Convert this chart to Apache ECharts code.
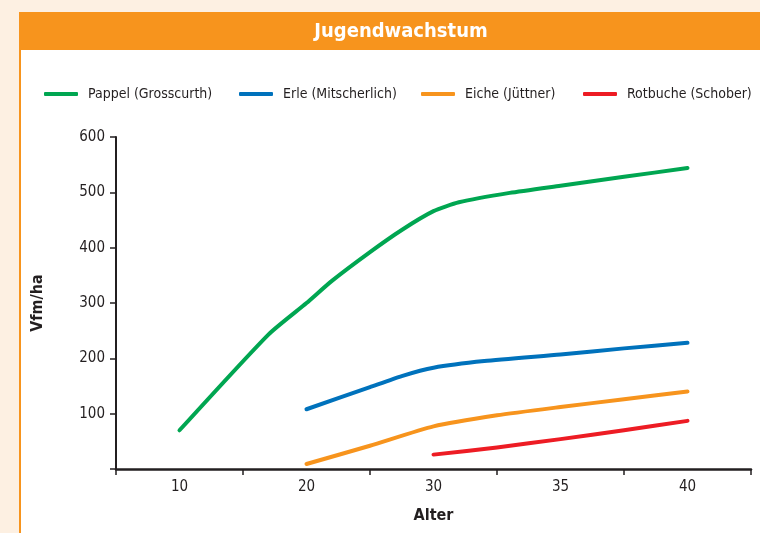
<!DOCTYPE html>
<html>
<head>
<meta charset="utf-8">
<script src="https://cdn.jsdelivr.net/npm/echarts@6/dist/echarts.min.js"></script>
<style>
  html, body { margin: 0; padding: 0; background: #fdf0e2; }
  #chart { width: 760px; height: 533px; }
</style>
</head>
<body>
<div id="chart"></div>
<script>
// x-axis categories (the axis is not linear: 10-20-30 then 35-40)
const ageTicks = ['10', '20', '30', '35', '40'];
const tickAges = [10, 20, 30, 35, 40];

const seriesNames = ['Pappel (Grosscurth)', 'Erle (Mitscherlich)', 'Eiche (Jüttner)', 'Rotbuche (Schober)'];
const seriesColors = ['#00a651', '#0072bc', '#f7941d', '#ed1c24'];

// Vfm/ha by age
const pappelAge = [10, 17, 20, 22, 25, 27.5, 30, 31, 33, 35, 37.5, 40];
const pappelVal = [70, 243, 300, 340, 392, 432, 466, 482, 499, 512, 528, 544];
const erleAge = [20, 25, 27.5, 30, 32, 35, 37.5, 40];
const erleVal = [108, 148, 168, 183, 195, 207, 218, 228];
const eicheAge = [20, 25, 30, 32.5, 35, 37.5, 40];
const eicheVal = [9, 42, 77, 97, 112, 126, 140];
const rotbucheAge = [30, 32.5, 35, 37.5, 40];
const rotbucheVal = [26, 39, 54, 70, 87];

const FONT = "'DejaVu Sans Condensed', 'Roboto', sans-serif";
const INK = '#231f20';

// age -> position on the piecewise axis (one band per tick label)
function agePos(age) {
  for (let i = 0; i < tickAges.length - 1; i++) {
    if (age <= tickAges[i + 1]) {
      return i + (age - tickAges[i]) / (tickAges[i + 1] - tickAges[i]);
    }
  }
  return tickAges.length - 1;
}

function pairs(ages, vals) {
  return ages.map((a, i) => [agePos(a), vals[i]]);
}

const allData = [
  pairs(pappelAge, pappelVal),
  pairs(erleAge, erleVal),
  pairs(eicheAge, eicheVal),
  pairs(rotbucheAge, rotbucheVal)
];

const legendLeft = [44, 239, 421, 583];

const chart = echarts.init(document.getElementById('chart'));

const option = {
  backgroundColor: '#fdf0e2',
  animation: false,
  graphic: [
    { type: 'rect', z: -10, shape: { x: 21, y: 50, width: 739, height: 483 }, style: { fill: '#ffffff' } },
    { type: 'rect', z: -10, shape: { x: 19, y: 12, width: 741, height: 38 }, style: { fill: '#f7941d' } },
    { type: 'rect', z: -10, shape: { x: 19, y: 12, width: 2, height: 521 }, style: { fill: '#f7941d' } }
  ],
  title: {
    text: 'Jugendwachstum',
    left: 401,
    top: 22,
    padding: 0,
    textAlign: 'center',
    textStyle: { color: '#ffffff', fontSize: 20, fontWeight: 'bold', fontFamily: FONT }
  },
  legend: seriesNames.map((name, i) => ({
    data: [name],
    left: legendLeft[i],
    top: 87,
    padding: 0,
    icon: 'roundRect',
    itemWidth: 34,
    itemHeight: 4,
    selectedMode: false,
    textStyle: { color: INK, fontSize: 14, fontFamily: FONT, padding: [0, 0, 0, 5] }
  })),
  grid: { left: 116, right: 9, top: 137, bottom: 64, containLabel: false },
  xAxis: [
    {
      type: 'category',
      data: ageTicks,
      boundaryGap: true,
      name: 'Alter',
      nameLocation: 'middle',
      nameGap: 39,
      nameTextStyle: { color: INK, fontSize: 16, fontWeight: 'bold', fontFamily: FONT },
      axisLine: { lineStyle: { color: INK, width: 2.5 } },
      axisTick: { show: true, length: 6, interval: 0, lineStyle: { color: INK, width: 1.5 } },
      axisLabel: { color: INK, fontSize: 15, fontFamily: FONT, margin: 11 },
      splitLine: { show: false }
    },
    {
      type: 'value',
      min: -0.5,
      max: 4.5,
      show: false
    }
  ],
  yAxis: {
    type: 'value',
    min: 0,
    max: 600,
    interval: 100,
    name: 'Vfm/ha',
    nameLocation: 'middle',
    nameGap: 70,
    nameRotate: 90,
    nameTextStyle: { color: INK, fontSize: 16, fontWeight: 'bold', fontFamily: FONT },
    axisLine: { show: true, onZero: false, lineStyle: { color: INK, width: 2 } },
    axisTick: { show: true, length: 6, lineStyle: { color: INK, width: 1.5 } },
    axisLabel: {
      color: INK, fontSize: 15, fontFamily: FONT, margin: 11,
      formatter: (v) => (v === 0 ? '' : String(v))
    },
    splitLine: { show: false }
  },
  series: seriesNames.map((name, i) => ({
    name: name,
    type: 'line',
    xAxisIndex: 1,
    data: allData[i],
    color: seriesColors[i],
    showSymbol: false,
    symbol: 'none',
    smooth: 0.2,
    lineStyle: { width: 4, color: seriesColors[i], cap: 'round', join: 'round' }
  }))
};

chart.setOption(option);
</script>
</body>
</html>
